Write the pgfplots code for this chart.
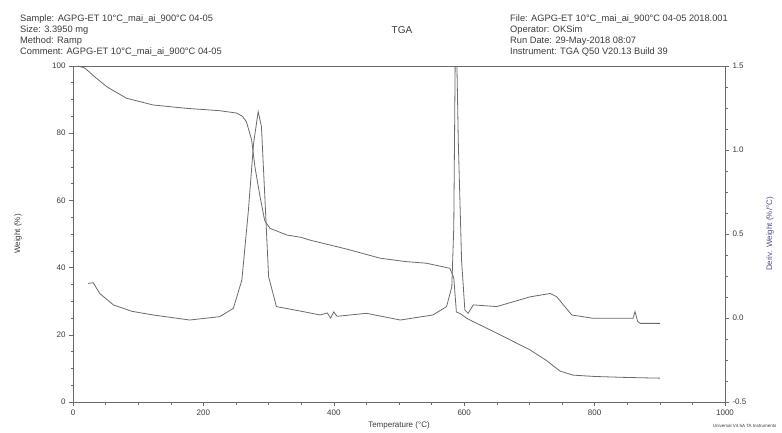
\documentclass[border=0pt]{standalone}
\usepackage{pgfplots}
\pgfplotsset{compat=1.18}
\usepackage{fontspec}
\setmainfont{Liberation Sans}
\definecolor{ln}{HTML}{6A6A6A}
\definecolor{tx}{HTML}{3A3A3A}
\definecolor{rl}{HTML}{50508C}
\begin{document}
\begin{tikzpicture}[x=1pt,y=1pt]
\useasboundingbox (0,0) rectangle (782,432);
\pgfplotsset{every axis/.append style={
  scale only axis, width=652pt, height=336pt, at={(73pt,30pt)}, anchor=south west,
  xmin=0, xmax=1000, tick align=outside, axis line style={ln, line width=0.8pt},
  every tick/.style={ln, line width=0.6pt}, major tick length=4pt, minor tick length=2.5pt,
  tick label style={font=\fontsize{8}{9}\selectfont, text=tx},
  /pgf/number format/1000 sep={},
  /pgf/number format/assume math mode=true}}
\begin{axis}[
  axis y line*=left, axis x line*=bottom,
  ymin=0, ymax=100, ytick={0,20,40,60,80,100}, minor y tick num=3,
  xtick={0,200,400,600,800,1000}, minor x tick num=3,
  xlabel={Temperature (°C)}, ylabel={Weight (\%)},
  label style={font=\fontsize{8}{9}\selectfont, text=tx},
  xlabel style={at={(axis description cs:0.5,0)}, anchor=center, yshift=-23pt},
  ylabel style={at={(axis description cs:0,0.5)}, anchor=center, yshift=55pt},
  clip=true]
\addplot[ln, line width=0.8pt] coordinates {
(8,100) (18,99.4) (35,96.5) (52,93.8) (82,90.4) (123,88.4) (174,87.4) (225,86.7)
(251,86) (260,85) (266,83.4) (274,78) (279,70) (287,61) (294,54) (302,51.7)
(328,49.7) (350,49) (363,48.2) (420,45.5) (471,42.8) (510,41.8) (542,41.3)
(578,39.8) (584,37) (588,26.8) (594,26.3) (604,24.9) (614,23.9) (650,20.5)
(701,15.5) (725,12.5) (747,9.2) (767,8) (800,7.6) (850,7.3) (900,7.1)};
\draw[ln, line width=0.8pt] (axis cs:0,100) -- (axis cs:1000,100);
\end{axis}
\begin{axis}[
  axis y line*=right, axis x line=none,
  ymin=-0.5, ymax=1.5, ytick={-0.5,0,0.5,1.0,1.5}, minor y tick num=3,
  yticklabel style={/pgf/number format/.cd, fixed, fixed zerofill, precision=1},
  ylabel={Deriv. Weight (\%/°C)},
  ylabel style={font=\fontsize{8}{9}\selectfont, text=rl, at={(axis description cs:1,0.5)}, anchor=center, yshift=-45pt},
  clip=true]
\addplot[ln, line width=0.8pt] coordinates {
(23,0.206) (31,0.21) (41,0.146) (62,0.078) (90,0.04) (123,0.018) (179,-0.012)
(225,0.008) (246,0.058) (259,0.226) (269,0.64) (277,1.04) (284,1.228) (289,1.14)
(294,0.74) (300,0.246) (312,0.068) (353,0.038) (379,0.018) (390,0.03) (395,0.0)
(400,0.036) (405,0.01) (450,0.028) (502,-0.012) (552,0.018) (573,0.068)
(581,0.186) (584,0.54) (587,1.9) (591,1.04) (596,0.34) (601,0.048) (606,0.028)
(614,0.078) (650,0.068) (701,0.126) (732,0.146) (742,0.126) (765,0.018)
(798,-0.002) (859,-0.002) (862,0.038) (866,-0.02) (870,-0.032) (900,-0.032)};
\end{axis}
\begin{scope}[font=\fontsize{9.3}{11}\selectfont, text=tx]
\node[anchor=north west, align=left, inner sep=0pt] at (20,417) {Sample: AGPG-ET 10°C\_mai\_ai\_900°C 04-05\\Size: 3.3950 mg\\Method: Ramp\\Comment: AGPG-ET 10°C\_mai\_ai\_900°C 04-05};
\node[anchor=north west, align=left, inner sep=0pt] at (510,417) {File: AGPG-ET 10°C\_mai\_ai\_900°C 04-05 2018.001\\Operator: OKSim\\Run Date: 29-May-2018 08:07\\Instrument: TGA Q50 V20.13 Build 39};
\end{scope}
\node[font=\fontsize{10}{12}\selectfont, text=tx] at (402,402) {TGA};
\node[font=\fontsize{4.5}{5}\selectfont, text=tx, anchor=east] at (780,6) {Universal V4.5A TA Instruments};
\end{tikzpicture}
\end{document}
